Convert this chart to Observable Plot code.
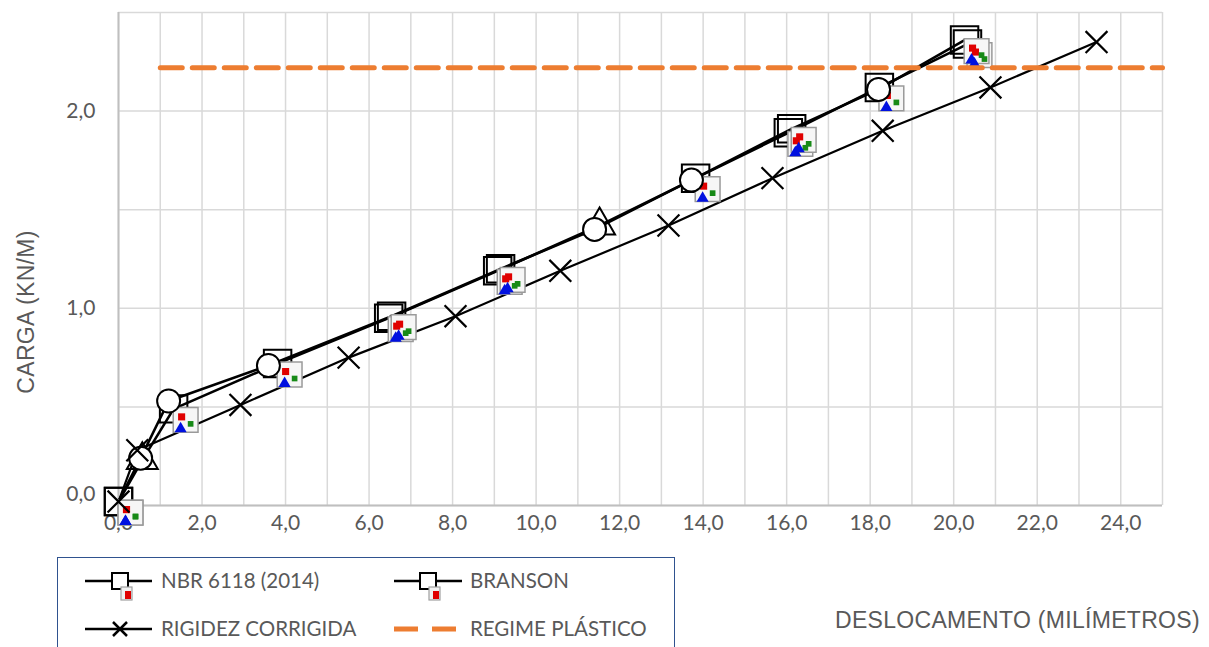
<!DOCTYPE html>
<html><head><meta charset="utf-8">
<script src="https://cdn.jsdelivr.net/npm/d3@7"></script>
<script src="https://cdn.jsdelivr.net/npm/@observablehq/plot@0.6"></script>
<style>
body{margin:0;background:#fff;}
#wrap{position:relative;width:1209px;height:647px;overflow:hidden;font-family:Lato,sans-serif;}
#chart{position:absolute;left:0;top:0;}
#ytitle{position:absolute;left:26px;top:312px;transform:translate(-50%,-50%) rotate(-90deg);font-family:"Liberation Sans",Arial,sans-serif;font-size:23px;line-height:26px;color:#595959;white-space:nowrap;letter-spacing:0.3px;}
#xtitle{position:absolute;left:835px;top:607px;font-family:"Liberation Sans",Arial,sans-serif;font-size:23px;line-height:26px;color:#595959;white-space:nowrap;letter-spacing:0.3px;}
#legend{position:absolute;left:57px;top:557px;width:618px;height:110px;border:1.5px solid #2f528f;box-sizing:border-box;}
#legend svg{position:absolute;left:0;top:0;}
</style></head><body>
<div id="wrap"><div id="chart"></div><div id="ytitle">CARGA (KN/M)</div><div id="xtitle">DESLOCAMENTO (MILÍMETROS)</div><div id="legend"></div></div>
<script>
// ---- data ----
const nbrX = [0, 0.57, 1.32, 3.81, 6.47, 9.08, 11.52, 13.82, 16.04, 18.22, 20.33];
const nbrY = [0.02, 0.23, 0.49, 0.72, 0.95, 1.19, 1.42, 1.66, 1.89, 2.12, 2.34];
const nbrMarker = ["square","triangle","square","square","square","square","triangle","square","square","square","square"];

const bransonX = [0, 0.53, 1.20, 3.59, 6.54, 9.15, 11.40, 13.72, 16.12, 18.20, 20.26];
const bransonY = [0.02, 0.24, 0.53, 0.71, 0.96, 1.20, 1.40, 1.65, 1.91, 2.11, 2.36];
const bransonMarker = ["square","circle","circle","circle","square","square","circle","circle","square","circle","square"];

const rigidezX = [0, 0.45, 2.92, 5.51, 8.07, 10.58, 13.17, 15.66, 18.30, 20.88, 23.42];
const rigidezY = [0.02, 0.28, 0.51, 0.75, 0.96, 1.19, 1.42, 1.66, 1.90, 2.12, 2.35];

const plasticX = [1.0, 25];
const plasticY = [2.22, 2.22];

const xTicks = [0,2,4,6,8,10,12,14,16,18,20,22,24];
const yTicks = [0,1,2];
const seriesNames = ["NBR 6118 (2014)", "BRANSON", "RIGIDEZ CORRIGIDA", "REGIME PLÁSTICO"];

// ---- build tables ----
const nbr = nbrX.map((x,i)=>({x, y:nbrY[i], m:nbrMarker[i]}));
const bra = bransonX.map((x,i)=>({x, y:bransonY[i], m:bransonMarker[i]}));
const rig = rigidezX.map((x,i)=>({x, y:rigidezY[i]}));
const pla = plasticX.map((x,i)=>({x, y:plasticY[i]}));
const all = nbr.concat(bra);
const squares = all.filter(d=>d.m==="square");
const circles = all.filter(d=>d.m==="circle");
const triangles = all.filter(d=>d.m==="triangle");
const fmt = d => d3.format(".1f")(d).replace(".", ",");

const chart = Plot.plot({
  width: 1209, height: 552,
  marginLeft: 118, marginRight: 47, marginTop: 12, marginBottom: 47,
  style: {fontFamily: "Lato, sans-serif", color: "#595959", background: "white", overflow: "visible"},
  x: {domain: [0, 25]},
  y: {domain: [0, 2.5]},
  marks: [
    Plot.gridX(d3.range(0, 26, 1), {stroke: "#d9d9d9", strokeOpacity: 1, strokeWidth: 1.5}),
    Plot.gridY(d3.range(0, 2.51, 0.5), {stroke: "#d9d9d9", strokeOpacity: 1, strokeWidth: 1.5}),
    Plot.ruleY([0], {stroke: "#bfbfbf", strokeWidth: 2}),
    Plot.ruleX([0], {stroke: "#bfbfbf", strokeWidth: 2}),
    Plot.axisX(xTicks, {tickSize: 0, tickPadding: 10, fontSize: 21, tickFormat: fmt, label: null}),
    Plot.axisY(yTicks.filter(d => d > 0), {tickSize: 0, tickPadding: 23, fontSize: 21, tickFormat: fmt, label: null}),
    Plot.axisY(yTicks.filter(d => d === 0), {tickSize: 0, tickPadding: 23, fontSize: 21, tickFormat: fmt, label: null, dy: -11}),
    Plot.line(rig, {x: "x", y: "y", stroke: "black", strokeWidth: 2.2}),
    Plot.line(nbr, {x: "x", y: "y", stroke: "black", strokeWidth: 2.6}),
    Plot.line(bra, {x: "x", y: "y", stroke: "black", strokeWidth: 2.6}),
    Plot.dot(squares, {x: "x", y: "y", symbol: "square", r: 15.5, fill: "none", stroke: "black", strokeWidth: 2}),
    // picture-marker icon
    Plot.dot(squares, {x: "x", y: "y", symbol: "square", r: 14, dx: 12, dy: 11, fill: "#f6f6f6", stroke: "#9a9a9a", strokeWidth: 1.5}),
    Plot.dot(squares, {x: "x", y: "y", symbol: "square", r: 4, dx: 8, dy: 8, fill: "#e00000"}),
    Plot.dot(squares, {x: "x", y: "y", symbol: "square", r: 3.2, dx: 17, dy: 15, fill: "#178a17"}),
    Plot.dot(squares, {x: "x", y: "y", symbol: "triangle", r: 4.5, dx: 7, dy: 20, fill: "#0010e0"}),
    Plot.dot(triangles, {x: "x", y: "y", symbol: "triangle", r: 11.5, fill: "none", stroke: "black", strokeWidth: 2}),
    Plot.dot(circles, {x: "x", y: "y", symbol: "circle", r: 11.5, fill: "white", stroke: "black", strokeWidth: 2}),
    Plot.dot(rig, {x: "x", y: "y", symbol: "times", r: 10, stroke: "black", strokeWidth: 2.2}),
    Plot.line(pla, {x: "x", y: "y", stroke: "#ED7D31", strokeWidth: 5, strokeDasharray: "22,10"})
  ]
});
document.getElementById("chart").appendChild(chart);

// ---- legend ----
const lg = d3.select("#legend").append("svg").attr("width", 618).attr("height", 110);
const rows = [23, 71], cols = [[27, 94, 62, 103], [336, 404, 370, 412]];
function icon(g, cx, cy) {
  g.append("rect").attr("x", cx+1).attr("y", cy+6).attr("width", 11).attr("height", 13).attr("fill", "#f0f0f0").attr("stroke", "#a0a0a0").attr("stroke-width", 1.2);
  g.append("rect").attr("x", cx+5).attr("y", cy+10).attr("width", 6).attr("height", 8).attr("fill", "#e00000");
}
seriesNames.forEach((name, i) => {
  const [x0, x1, cx, tx] = cols[i % 2];
  const y = rows[Math.floor(i / 2)];
  const g = lg.append("g");
  if (i < 2) {
    g.append("line").attr("x1", x0).attr("x2", x1).attr("y1", y).attr("y2", y).attr("stroke", "black").attr("stroke-width", 2.5);
    g.append("rect").attr("x", cx-8).attr("y", y-8).attr("width", 16).attr("height", 16).attr("fill", "white").attr("stroke", "black").attr("stroke-width", 2);
    icon(g, cx, y);
  } else if (i === 2) {
    g.append("line").attr("x1", x0).attr("x2", x1).attr("y1", y).attr("y2", y).attr("stroke", "black").attr("stroke-width", 2.5);
    g.append("path").attr("d", `M${cx-7},${y-7}L${cx+7},${y+7}M${cx-7},${y+7}L${cx+7},${y-7}`).attr("stroke", "black").attr("stroke-width", 2.5);
  } else {
    g.append("line").attr("x1", x0).attr("x2", x1).attr("y1", y).attr("y2", y).attr("stroke", "#ED7D31").attr("stroke-width", 5).attr("stroke-dasharray", "24,14");
  }
  g.append("text").attr("x", tx).attr("y", y).attr("dy", "0.35em").attr("font-family", "Lato, sans-serif").attr("font-size", 20.5).attr("fill", "#595959").text(name);
});
</script>
</body></html>
